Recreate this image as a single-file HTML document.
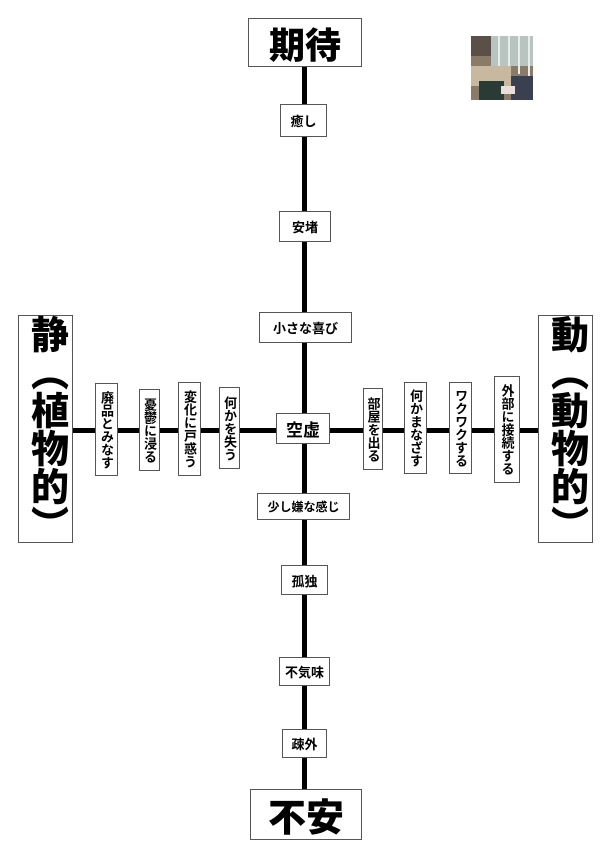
<!DOCTYPE html>
<html><head><meta charset="utf-8"><style>
body{margin:0;width:613px;height:859px;background:#fff;position:relative;overflow:hidden;font-family:"Liberation Sans","Noto Sans CJK JP",sans-serif;font-weight:bold;color:#000}
.b{position:absolute;background:#fff;border:1px solid #555;box-sizing:border-box;display:flex;align-items:center;justify-content:center;font-size:13px;white-space:nowrap}
.v{writing-mode:vertical-rl;font-size:13px;letter-spacing:0}
.big{writing-mode:vertical-rl;font-size:38px;font-weight:900;line-height:1}
.l{position:absolute;background:#000}
</style></head><body>
<div class="l" style="left:302px;top:66px;width:5px;height:724px"></div>
<div class="l" style="left:73px;top:428px;width:466px;height:5px"></div>
<div class="b" style="left:248px;top:18px;width:114px;height:49px;font-size:36px;font-weight:900">期待</div>
<div class="b" style="left:250px;top:789px;width:112px;height:51px;font-size:38px;font-weight:900">不安</div>
<div class="b" style="left:280px;top:104px;width:47px;height:33px">癒し</div>
<div class="b" style="left:279px;top:211px;width:52px;height:31px">安堵</div>
<div class="b" style="left:259px;top:312px;width:93px;height:31px">小さな喜び</div>
<div class="b" style="left:276px;top:413px;width:54px;height:31px;font-size:17px">空虚</div>
<div class="b" style="left:257px;top:493px;width:93px;height:27px;font-size:12px">少し嫌な感じ</div>
<div class="b" style="left:281px;top:565px;width:47px;height:30px">孤独</div>
<div class="b" style="left:279px;top:657px;width:51px;height:29px">不気味</div>
<div class="b" style="left:282px;top:729px;width:45px;height:29px">疎外</div>
<div class="b big" style="left:18px;top:315px;width:55px;height:228px;justify-content:center">静（植物的）</div>
<div class="b big" style="left:538px;top:315px;width:55px;height:228px">動（動物的）</div>
<div class="b v" style="left:95px;top:383px;width:23px;height:93px">廃品とみなす</div>
<div class="b v" style="left:139px;top:389px;width:21px;height:82px">憂鬱に浸る</div>
<div class="b v" style="left:178px;top:382px;width:23px;height:94px">変化に戸惑う</div>
<div class="b v" style="left:219px;top:387px;width:21px;height:82px">何かを失う</div>
<div class="b v" style="left:363px;top:388px;width:20px;height:82px">部屋を出る</div>
<div class="b v" style="left:404px;top:382px;width:23px;height:92px">何かまなざす</div>
<div class="b v" style="left:449px;top:382px;width:23px;height:92px">ワクワクする</div>
<div class="b v" style="left:494px;top:376px;width:26px;height:107px">外部に接続する</div>
<svg style="position:absolute;left:471px;top:36px" width="62" height="64">
<rect width="62" height="64" fill="#8a7a68"/>
<rect x="20" y="0" width="42" height="30" fill="#b8c4c0"/>
<rect x="0" y="0" width="20" height="20" fill="#5a5048"/>
<g stroke="#e8ecea" stroke-width="2"><line x1="28" y1="0" x2="28" y2="30"/><line x1="38" y1="0" x2="38" y2="35"/><line x1="48" y1="0" x2="48" y2="38"/><line x1="58" y1="0" x2="58" y2="40"/></g>
<rect x="0" y="30" width="40" height="20" fill="#c8b8a0"/>
<rect x="8" y="45" width="25" height="19" fill="#2a3a34"/>
<rect x="40" y="40" width="22" height="24" fill="#3a4050"/>
<rect x="30" y="50" width="14" height="8" fill="#e8e0d8"/>
</svg>
</body></html>
